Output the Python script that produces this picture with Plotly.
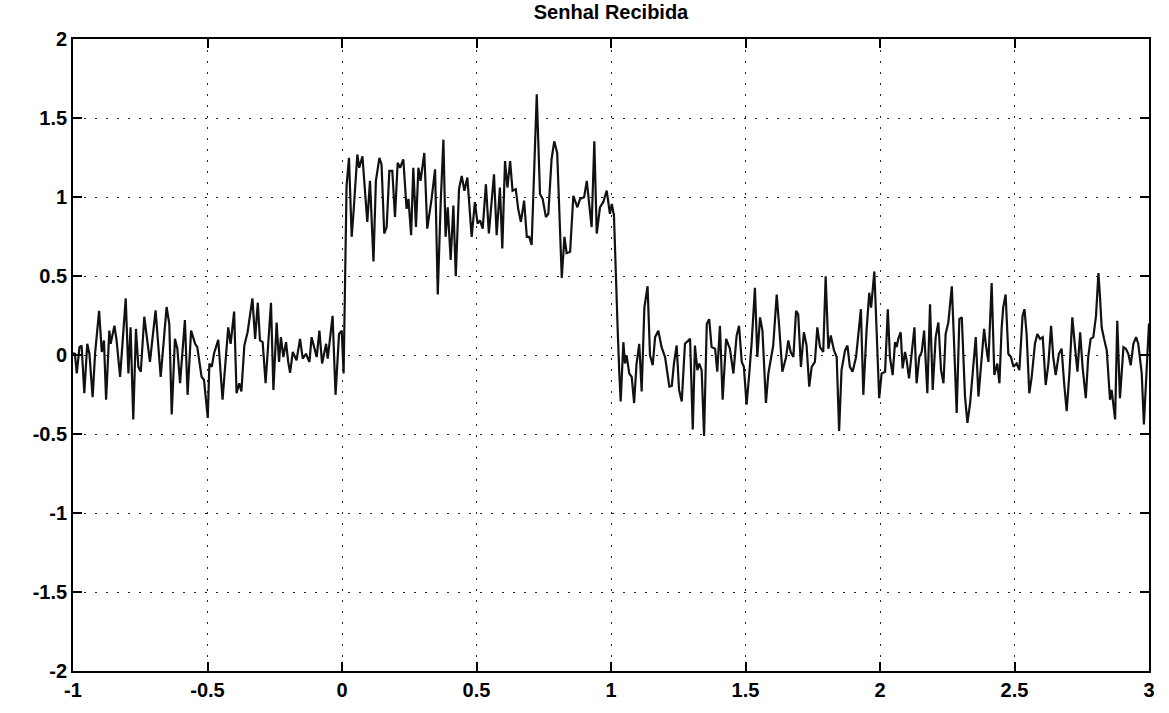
import plotly.graph_objects as go

# (time, amplitude) pairs, segment by segment
seg_a = [(-1.0, 0.01), (-0.993, 0.008), (-0.986, -0.117), (-0.976, 0.05), (-0.968, 0.06), (-0.958, -0.242),
         (-0.947, 0.071), (-0.939, 0.008), (-0.927, -0.267), (-0.918, 0.008), (-0.903, 0.279), (-0.893, 0.019),
         (-0.885, 0.092), (-0.877, -0.283), (-0.865, 0.154), (-0.86, 0.071), (-0.846, 0.185), (-0.838, 0.092),
         (-0.825, -0.138), (-0.815, 0.071), (-0.804, 0.358), (-0.794, -0.117), (-0.786, 0.175), (-0.776, -0.408),
         (-0.766, 0.165), (-0.757, -0.075), (-0.748, -0.106), (-0.735, 0.242), (-0.726, 0.133), (-0.714, -0.044),
         (-0.693, 0.283), (-0.674, -0.138), (-0.652, 0.304), (-0.642, 0.196), (-0.633, -0.377), (-0.621, 0.102),
         (-0.612, 0.04), (-0.602, -0.179), (-0.584, 0.221), (-0.574, -0.252), (-0.561, 0.154), (-0.546, 0.071),
         (-0.538, 0.05), (-0.522, -0.138), (-0.513, -0.158), (-0.499, -0.398)]
seg_b = [(-0.493, -0.054), (-0.484, -0.075), (-0.476, 0.008), (-0.46, 0.096), (-0.444, -0.283), (-0.423, 0.175),
         (-0.414, 0.071), (-0.401, 0.275), (-0.392, -0.242), (-0.382, -0.179), (-0.374, -0.231), (-0.363, 0.06),
         (-0.351, 0.144), (-0.333, 0.358), (-0.323, 0.102), (-0.313, 0.331), (-0.305, 0.092), (-0.295, 0.081),
         (-0.284, -0.179), (-0.264, 0.331), (-0.255, -0.221), (-0.243, 0.206), (-0.234, -0.044), (-0.227, 0.113),
         (-0.218, -0.013), (-0.208, 0.081), (-0.2, -0.044), (-0.193, -0.113), (-0.183, 0.019), (-0.169, -0.033),
         (-0.156, 0.102), (-0.146, -0.023), (-0.134, 0.008), (-0.121, -0.044), (-0.113, 0.113), (-0.104, 0.05),
         (-0.094, -0.013), (-0.084, 0.154), (-0.074, -0.054), (-0.059, 0.071), (-0.053, -0.023), (-0.035, 0.248),
         (-0.024, -0.252), (-0.011, 0.133), (-0.001, 0.154), (0.006, -0.117)]
seg_c = [(0.017, 1.071), (0.026, 1.248), (0.036, 0.748), (0.042, 0.883), (0.057, 1.269), (0.064, 1.185),
         (0.076, 1.258), (0.094, 0.842), (0.104, 1.102), (0.117, 0.592), (0.126, 1.102), (0.139, 1.248),
         (0.147, 1.206), (0.157, 0.769), (0.166, 0.81), (0.176, 1.165), (0.187, 1.165), (0.197, 0.873),
         (0.207, 1.217), (0.216, 1.185), (0.228, 1.238), (0.24, 0.925), (0.247, 0.988), (0.257, 0.758),
         (0.265, 1.185), (0.275, 0.81), (0.284, 1.185), (0.292, 1.102), (0.306, 1.279), (0.317, 0.8),
         (0.333, 0.988), (0.346, 1.175), (0.356, 0.383), (0.367, 0.967), (0.377, 1.363), (0.385, 0.748),
         (0.393, 0.935), (0.404, 0.602), (0.414, 0.946), (0.423, 0.498), (0.435, 1.05), (0.445, 1.133),
         (0.455, 1.04), (0.466, 1.123), (0.482, 0.748), (0.494, 0.967), (0.504, 0.831)]
seg_d = [(0.513, 0.852), (0.523, 0.8), (0.535, 1.081), (0.546, 0.769), (0.565, 1.144), (0.575, 0.758),
         (0.587, 1.06), (0.596, 0.675), (0.606, 1.227), (0.615, 1.06), (0.625, 1.227), (0.634, 1.04),
         (0.646, 1.05), (0.655, 0.925), (0.665, 0.842), (0.677, 0.977), (0.687, 0.748), (0.696, 0.748),
         (0.705, 0.696), (0.724, 1.65), (0.736, 1.019), (0.746, 0.988), (0.758, 0.873), (0.767, 0.894),
         (0.779, 1.238), (0.789, 1.352), (0.8, 1.279), (0.817, 0.488), (0.827, 0.748), (0.835, 0.644),
         (0.848, 0.654), (0.86, 1.008), (0.875, 0.935), (0.885, 0.988), (0.9, 0.998), (0.91, 1.102),
         (0.928, 0.81), (0.938, 1.352), (0.947, 0.769), (0.959, 0.935), (0.971, 0.967), (0.984, 1.04),
         (0.996, 0.894), (1.003, 0.956), (1.011, 0.883), (1.019, 0.383), (1.025, 0.154)]
seg_e = [(1.031, -0.117), (1.036, -0.294), (1.046, 0.081), (1.052, -0.054), (1.058, -0.002), (1.068, -0.117),
         (1.077, -0.138), (1.086, -0.304), (1.095, -0.054), (1.105, 0.071), (1.114, -0.231), (1.124, 0.3),
         (1.136, 0.435), (1.145, -0.002), (1.155, -0.065), (1.164, 0.113), (1.176, 0.154), (1.188, 0.05),
         (1.201, -0.013), (1.217, -0.2), (1.226, -0.196), (1.234, -0.054), (1.244, 0.06), (1.253, -0.221),
         (1.263, -0.294), (1.275, 0.071), (1.294, 0.102), (1.304, -0.471), (1.312, 0.06), (1.321, -0.096),
         (1.328, -0.054), (1.337, -0.096), (1.346, -0.513), (1.356, 0.196), (1.365, 0.227), (1.374, 0.05),
         (1.387, 0.04), (1.395, -0.106), (1.405, 0.185), (1.415, -0.283), (1.428, 0.102), (1.442, 0.04),
         (1.455, -0.117), (1.467, 0.123), (1.476, 0.185), (1.486, -0.044), (1.494, -0.075), (1.504, -0.315),
         (1.514, -0.117)]
seg_f = [(1.523, 0.081), (1.535, 0.425), (1.544, -0.013), (1.554, 0.238), (1.563, 0.154), (1.576, -0.304),
         (1.585, -0.117), (1.603, 0.06), (1.616, 0.383), (1.625, 0.185), (1.637, -0.106), (1.651, -0.013),
         (1.659, 0.092), (1.668, 0.019), (1.678, -0.013), (1.688, 0.279), (1.696, 0.258), (1.706, -0.075),
         (1.717, 0.144), (1.727, 0.06), (1.737, -0.2), (1.746, -0.075), (1.758, -0.044), (1.767, 0.175),
         (1.777, 0.05), (1.789, 0.019), (1.798, 0.498), (1.808, 0.04), (1.817, 0.123), (1.829, 0.029),
         (1.839, -0.013), (1.848, -0.481), (1.857, -0.096), (1.87, 0.029), (1.879, 0.06), (1.888, -0.075),
         (1.898, -0.106), (1.911, -0.013), (1.923, 0.196), (1.929, 0.29), (1.938, -0.252), (1.95, 0.154),
         (1.96, 0.394), (1.967, 0.3), (1.979, 0.529), (1.988, 0.133), (1.997, -0.273), (2.006, -0.117),
         (2.019, -0.106), (2.029, 0.29)]
seg_g = [(2.037, -0.013), (2.047, -0.127), (2.056, 0.081), (2.062, 0.05), (2.068, 0.102), (2.077, 0.144),
         (2.084, -0.085), (2.093, 0.019), (2.099, -0.033), (2.108, -0.148), (2.118, 0.008), (2.128, 0.175),
         (2.136, -0.179), (2.146, -0.013), (2.155, 0.019), (2.164, 0.154), (2.176, -0.242), (2.186, 0.321),
         (2.196, -0.221), (2.207, 0.113), (2.217, 0.206), (2.227, -0.096), (2.236, -0.179), (2.244, 0.133),
         (2.254, 0.206), (2.267, 0.435), (2.275, 0.092), (2.285, -0.367), (2.295, 0.227), (2.304, 0.238),
         (2.316, -0.263), (2.325, -0.429), (2.335, -0.304), (2.345, -0.075), (2.356, 0.113), (2.366, -0.263),
         (2.375, -0.096), (2.387, 0.165), (2.394, 0.06), (2.403, -0.044), (2.415, 0.456), (2.425, -0.127),
         (2.436, -0.054), (2.444, -0.179), (2.452, 0.165), (2.458, 0.3), (2.467, 0.383), (2.477, 0.008),
         (2.487, -0.013), (2.496, -0.075), (2.508, -0.054), (2.518, -0.096), (2.53, 0.248), (2.537, 0.29),
         (2.545, 0.133), (2.555, -0.242)]
seg_h = [(2.564, -0.138), (2.576, 0.071), (2.585, 0.133), (2.595, 0.102), (2.605, 0.113), (2.616, -0.19),
         (2.626, -0.054), (2.636, 0.185), (2.644, -0.013), (2.653, -0.127), (2.665, 0.008), (2.675, 0.04),
         (2.685, -0.19), (2.694, -0.356), (2.704, -0.117), (2.715, 0.238), (2.725, 0.05), (2.734, -0.106),
         (2.744, 0.144), (2.753, -0.075), (2.765, -0.273), (2.774, -0.013), (2.783, 0.102), (2.793, 0.113),
         (2.803, 0.248), (2.812, 0.519), (2.818, 0.363), (2.824, 0.175), (2.833, 0.102), (2.843, 0.029),
         (2.855, -0.283), (2.861, -0.221), (2.874, -0.408), (2.882, 0.217), (2.892, -0.273), (2.905, 0.05),
         (2.914, 0.04), (2.923, 0.008), (2.932, -0.065), (2.942, 0.071), (2.952, 0.113), (2.96, 0.071),
         (2.973, -0.117), (2.981, -0.44), (2.989, -0.169), (2.997, 0.165), (3.0, 0.2)]

x_tick_vals = [-1, -0.5, 0, 0.5, 1, 1.5, 2, 2.5, 3]
x_tick_text = ["-1", "-0.5", "0", "0.5", "1", "1.5", "2", "2.5", "3"]
y_tick_vals = [-2, -1.5, -1, -0.5, 0, 0.5, 1, 1.5, 2]
y_tick_text = ["-2", "-1.5", "-1", "-0.5", "0", "0.5", "1", "1.5", "2"]
title_text = "Senhal Recibida"

pairs = seg_a + seg_b + seg_c + seg_d + seg_e + seg_f + seg_g + seg_h
t = [p[0] for p in pairs]
s = [p[1] for p in pairs]

fig = go.Figure()
fig.add_trace(go.Scatter(x=t, y=s, mode="lines",
                         line=dict(color="#111111", width=2.2), showlegend=False))

font = dict(family="Liberation Sans, Arial, sans-serif", size=20, color="black", weight="bold")
axis_common = dict(showline=True, linecolor="black", linewidth=1.8, mirror="ticks",
                   ticks="inside", ticklen=9, tickwidth=1.8, tickcolor="black",
                   showgrid=True, gridcolor="#222222", gridwidth=1.3, griddash="2px,9px",
                   zeroline=False, tickfont=font)

fig.update_layout(
    width=1169, height=713,
    margin=dict(l=73, r=20, t=39, b=36),
    paper_bgcolor="white", plot_bgcolor="white",
    title=dict(text=title_text, x=0.5, xref="paper", y=1 - 12 / 713, yanchor="middle",
               font=dict(family="Liberation Sans, Arial, sans-serif", size=20, color="black",
                         weight="bold")),
    xaxis=dict(range=[-1, 3], tickvals=x_tick_vals, ticktext=x_tick_text, **axis_common),
    yaxis=dict(range=[-2, 2], tickvals=y_tick_vals, ticktext=y_tick_text, **axis_common),
)

fig.write_html("out.html")
